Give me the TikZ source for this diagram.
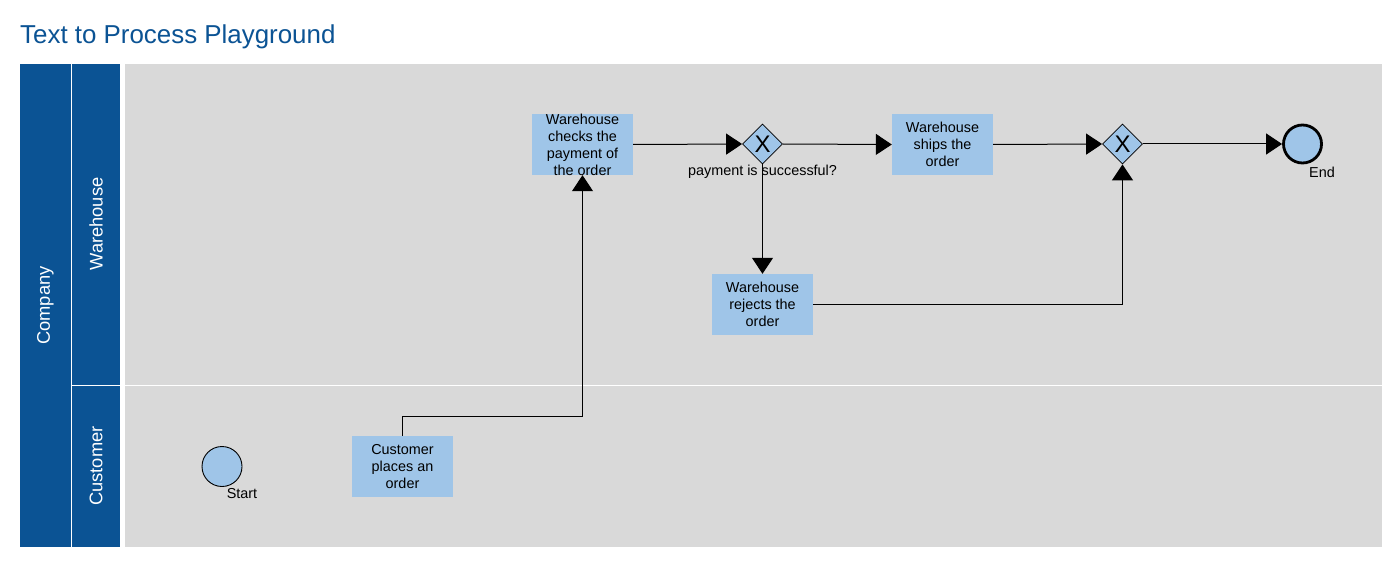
\documentclass[tikz,border=0pt]{standalone}
\usepackage{fontspec}
\setmainfont{Liberation Sans}
\usetikzlibrary{arrows.meta,shapes.geometric}
\definecolor{poolblue}{HTML}{0B5394}
\definecolor{taskfill}{HTML}{9FC5E8}
\definecolor{lanegray}{HTML}{D9D9D9}
\begin{document}
\begin{tikzpicture}[x=1pt,y=-1pt,
  task/.style={rectangle,fill=taskfill,minimum width=101pt,minimum height=61pt,inner sep=0pt},
  tasktext/.style={align=center,inner sep=0pt,font=\fontsize{14.4}{17}\selectfont},
  gateway/.style={diamond,aspect=1,fill=taskfill,draw=black,line width=0.8pt,minimum width=40pt,minimum height=40pt,inner sep=0pt},
  gwmark/.style={inner sep=0pt,font=\fontsize{24}{24}\selectfont},
  startevent/.style={circle,fill=taskfill,draw=black,line width=0.9pt,minimum size=40pt,inner sep=0pt},
  endevent/.style={circle,fill=taskfill,draw=black,line width=2.8pt,minimum size=38pt,inner sep=0pt},
  evlabel/.style={inner sep=0pt,font=\fontsize{14.4}{17}\selectfont},
  lanelabel/.style={rotate=90,text=white,inner sep=0pt,font=\fontsize{18.3}{20}\selectfont},
  flow/.style={draw=black,line width=1pt,-{Triangle[length=16pt,width=21pt]}}]
\useasboundingbox (0,0) rectangle (1399,588);
\fill[white] (0,0) rectangle (1399,588);

% title
\node[anchor=base west,inner sep=0pt,text=poolblue,font=\fontsize{25.9}{30}\selectfont] (title) at (20,44) {Text to Process Playground};

% pool and lanes
\fill[poolblue] (20,64) rectangle (71,547);
\fill[poolblue] (72,64) rectangle (120,384.5);
\fill[poolblue] (72,386) rectangle (120,547);
\fill[lanegray] (125,64) rectangle (1382,384.5);
\fill[lanegray] (125,386) rectangle (1382,547);
\node[lanelabel] (pool) at (45.5,305.5) {Company};
\node[lanelabel] (laneW) at (96,224) {Warehouse};
\node[lanelabel] (laneC) at (96,466) {Customer};

% events
\node[startevent] (start) at (222,466.5) {};
\node[evlabel] (startlbl) at (242,494) {Start};
\node[endevent] (end) at (1302.5,144) {};
\node[evlabel] (endlbl) at (1322,172) {End};

% tasks
\node[task] (cust) at (402.5,466.5) {};
\node[tasktext] at (cust) {Customer\\places an\\order};
\node[task] (check) at (582.5,144.5) {};
\node[tasktext] at (check) {Warehouse\\checks the\\payment of\\the order};
\node[task] (ships) at (942.5,144.5) {};
\node[tasktext] at (ships) {Warehouse\\ships the\\order};
\node[task] (reject) at (762.5,304.5) {};
\node[tasktext] at (reject) {Warehouse\\rejects the\\order};

% gateways
\node[gateway] (gw1) at (762.5,144) {};
\node[gwmark] at (gw1) {X};
\node[evlabel] (gw1lbl) at (762.5,172) {payment is successful?};
\node[gateway] (gw2) at (1122.5,144) {};
\node[gwmark] at (gw2) {X};

% sequence flows
\coordinate (bend) at (402.5,416);
\draw[flow] (cust.north) -- (bend) -| (check.south);
\draw[flow] (check.east) -- (gw1.west);
\draw[flow] (gw1.east) -- (ships.west);
\draw[flow] (gw1.south) -- (reject.north);
\draw[flow] (ships.east) -- (gw2.west);
\draw[flow] (reject.east) -| (gw2.south);
\draw[flow] (gw2.east) -- (end.west);
\end{tikzpicture}
\end{document}
